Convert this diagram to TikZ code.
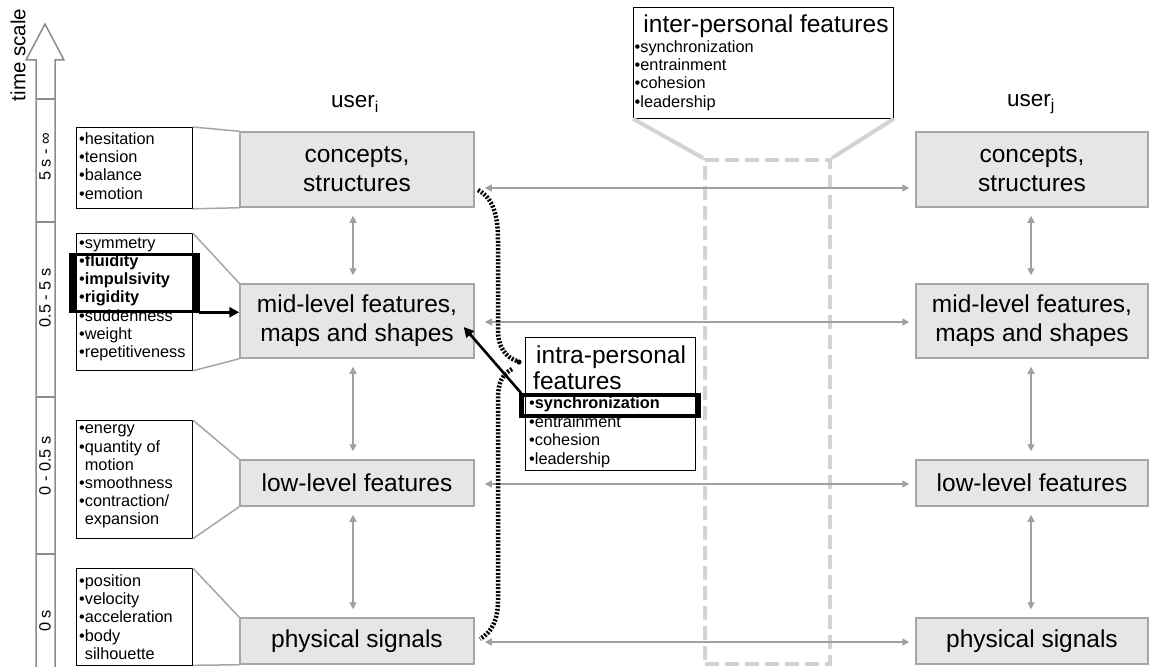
\documentclass[tikz,border=0pt]{standalone}
\usepackage{fontspec}
\setmainfont{Liberation Sans}
\usetikzlibrary{arrows.meta,calc}
\definecolor{boxfill}{HTML}{E6E6E6}
\definecolor{boxline}{HTML}{A6A6A6}
\definecolor{arrgray}{HTML}{A0A0A0}
\definecolor{lightg}{HTML}{D3D3D3}
\definecolor{scalegray}{HTML}{8C8C8C}
\newcommand{\fsz}[2]{\fontsize{#1}{#2}\selectfont}
\begin{document}
\begin{tikzpicture}[x=1pt,y=-1pt,
  mainbox/.style={draw=boxline, fill=boxfill, line width=1.5pt, inner sep=0pt, align=center, font=\fsz{24.5}{29}},
  listbox/.style={draw=black, line width=0.8pt, fill=white, inner sep=0pt, anchor=north west, minimum width=116pt},
  listtext/.style={anchor=north west, inner xsep=3pt, inner ysep=0pt, align=left, font=\fsz{16.3}{18.2}},
  garrow/.style={draw=arrgray, line width=1.4pt, {Triangle[width=7pt,length=7pt]}-{Triangle[width=7pt,length=7pt]}},
  feed/.style={draw=boxline, line width=1.5pt},
  interline/.style={draw=lightg, line width=4pt},
  hilite/.style={draw=black, line width=3.5pt, inner sep=0pt},
  blkarrow/.style={draw=black, line width=2.6pt, -{Triangle[width=10pt,length=10pt]}},
  scalelbl/.style={rotate=90, font=\fsz{16.3}{18}, inner sep=0pt},
  bracedots/.style={draw=black, line width=4.5pt, dash pattern=on 2pt off 1.6pt}
]
\useasboundingbox (0,0) rectangle (1150,666);

% ---------- time scale ----------
\draw[scalegray, line width=1.5pt, fill=white]
  (36,668) -- (36,60) -- (26,60) -- (45,24) -- (64,60) -- (55,60) -- (55,668);
\foreach \yy in {99,222,397,554} \draw[scalegray, line width=1.5pt] (36,\yy) -- (55,\yy);
\node[rotate=90, font=\fsz{20.5}{22}, inner sep=0pt] (tscale) at (18,55) {time scale};
\node[scalelbl] (t1) at (45,157) {5 s - ∞};
\node[scalelbl] (t2) at (45,298) {0.5 - 5 s};
\node[scalelbl] (t3) at (45,466) {0 - 0.5 s};
\node[scalelbl] (t4) at (45,621) {0 s};

% ---------- inter-personal dashed region ----------
\node[draw=lightg, line width=4pt, dash pattern=on 14pt off 6pt, inner sep=0pt,
      minimum width=125pt, minimum height=504pt, anchor=north west] (dr) at (703,158) {};

% ---------- user labels ----------
\node[font=\fsz{22.5}{24}, inner sep=0pt] (ui) at (355,104) {user\textsubscript{i}};
\node[font=\fsz{22.5}{24}, inner sep=0pt] (uj) at (1031,104) {user\textsubscript{j}};

% ---------- main boxes ----------
\node[mainbox, minimum width=234pt, minimum height=75pt] (ci) at (357,169.5) {concepts,\\structures};
\node[mainbox, minimum width=234pt, minimum height=74pt] (mi) at (357,321) {mid-level features,\\maps and shapes};
\node[mainbox, minimum width=234pt, minimum height=46pt] (li) at (357,483) {low-level features};
\node[mainbox, minimum width=234pt, minimum height=46pt] (pi) at (357,641) {physical signals};

\node[mainbox, minimum width=232pt, minimum height=75pt] (cj) at (1032,169.5) {concepts,\\structures};
\node[mainbox, minimum width=232pt, minimum height=74pt] (mj) at (1032,321) {mid-level features,\\maps and shapes};
\node[mainbox, minimum width=232pt, minimum height=46pt] (lj) at (1032,483) {low-level features};
\node[mainbox, minimum width=232pt, minimum height=46pt] (pj) at (1032,641) {physical signals};

% vertical arrows
\foreach \a/\b in {ci/mi, mi/li, li/pi}{
  \draw[garrow] ([xshift=-4pt,yshift=-8pt]\a.south) -- ([xshift=-4pt,yshift=8pt]\b.north);
}
\foreach \a/\b in {cj/mj, mj/lj, lj/pj}{
  \draw[garrow] ([xshift=-1pt,yshift=-8pt]\a.south) -- ([xshift=-1pt,yshift=8pt]\b.north);
}

% horizontal arrows
\draw[garrow] ([xshift=10pt,yshift=-18.5pt]ci.east) -- ([xshift=-6pt,yshift=-18.5pt]cj.west);
\draw[garrow] ([xshift=10pt,yshift=-1pt]mi.east) -- ([xshift=-6pt,yshift=-1pt]mj.west);
\draw[garrow] ([xshift=10pt,yshift=-1pt]li.east) -- ([xshift=-6pt,yshift=-1pt]lj.west);
\draw[garrow] ([xshift=10pt,yshift=-1pt]pi.east) -- ([xshift=-6pt,yshift=-1pt]pj.west);

% ---------- list boxes ----------
\node[listbox, minimum height=81pt] (l1) at (76,127) {};
\node[listbox, minimum height=137pt] (l2) at (76,233) {};
\node[listbox, minimum height=118pt] (l3) at (76,420) {};
\node[listbox, minimum height=97pt] (l4) at (76,568) {};

\node[listtext] (l1t) at ([yshift=-5.5pt]l1.north west) {•hesitation\\•tension\\•balance\\•emotion};
\node[listtext] (l2t) at ([yshift=-4.5pt]l2.north west) {•symmetry\\•\textbf{fluidity}\\•\textbf{impulsivity}\\•\textbf{rigidity}\\•suddenness\\•weight\\•repetitiveness};
\node[listtext] (l3t) at ([yshift=-5pt]l3.north west) {•energy\\•quantity of\\\phantom{•}motion\\•smoothness\\•contraction/\\\phantom{•}expansion};
\node[listtext] (l4t) at ([yshift=-6.5pt]l4.north west) {•position\\•velocity\\•acceleration\\•body\\\phantom{•}silhouette};

% feeder lines
\draw[feed] (l1.north east) -- (ci.north west);
\draw[feed] (l1.south east) -- (ci.south west);
\draw[feed] (l2.north east) -- (mi.north west);
\draw[feed] (l2.south east) -- (mi.south west);
\draw[feed] (l3.north east) -- (li.north west);
\draw[feed] (l3.south east) -- (li.south west);
\draw[feed] (l4.north east) -- (pi.north west);
\draw[feed] ([yshift=0.5pt]l4.south east) -- (pi.south west);

% ---------- inter-personal box ----------
\node[draw=black, line width=0.8pt, fill=white, inner sep=0pt, anchor=north west,
      minimum width=260pt, minimum height=111pt] (inter) at (633,7) {};
\node[anchor=north, inner sep=0pt, font=\fsz{24.5}{26}] (intert) at (766,14.5) {inter-personal features};
\node[listtext, inner xsep=1.5pt] (interl) at (633,40.5) {•synchronization\\•entrainment\\•cohesion\\•leadership};
\draw[interline] (inter.south west) -- (dr.north west);
\draw[interline] (inter.south east) -- (dr.north east);

% ---------- intra-personal box ----------
\node[draw=black, line width=0.8pt, fill=white, inner sep=0pt, anchor=north west,
      minimum width=170pt, minimum height=133pt] (intra) at (525,337) {};
\node[anchor=north west, inner sep=0pt, align=left, font=\fsz{24.5}{26}] (intrat) at (533,345.5) {\hspace{3pt}intra-personal\\features};
\node[listtext, font=\fsz{16.3}{18.5}] (intral) at (526,396.5) {•\textbf{synchronization}\\•entrainment\\•cohesion\\•leadership};

% ---------- highlights ----------
\node[hilite, minimum width=125pt, minimum height=57pt] (hl) at (134.25,283) {};
\draw[line width=7pt] ([xshift=2pt]hl.north west) -- ([xshift=2pt]hl.south west);
\draw[line width=7pt] ([xshift=-2pt]hl.north east) -- ([xshift=-2pt]hl.south east);
\coordinate (hlout) at ([yshift=1pt]hl.south east);
\draw[blkarrow] (hlout) -- (mi.west |- hlout);

\node[hilite, minimum width=176pt, minimum height=21pt] (sh) at (610,405.5) {};
\draw[line width=6pt] ([xshift=-1.5pt]sh.north east) -- ([xshift=-1.5pt]sh.south east);
\draw[line width=5pt] ([xshift=1pt]sh.north west) -- ([xshift=1pt]sh.south west);
\coordinate (mtip) at ([xshift=-11pt,yshift=-6pt]mi.east);
\draw[blkarrow] ([xshift=1pt]sh.north west) -- (mtip);

% ---------- dotted brace ----------
\draw[bracedots] (478,190) .. controls (493,198) and (498,215) .. (498,240) -- (498,330)
   .. controls (498,348) and (506,357) .. (517,361);
\draw[bracedots] (512,369) .. controls (503,374) and (498,382) .. (498,398) -- (498,600)
   .. controls (498,620) and (492,632) .. (480,639);
\fill (519,362) circle (2.6pt);
\end{tikzpicture}
\end{document}
